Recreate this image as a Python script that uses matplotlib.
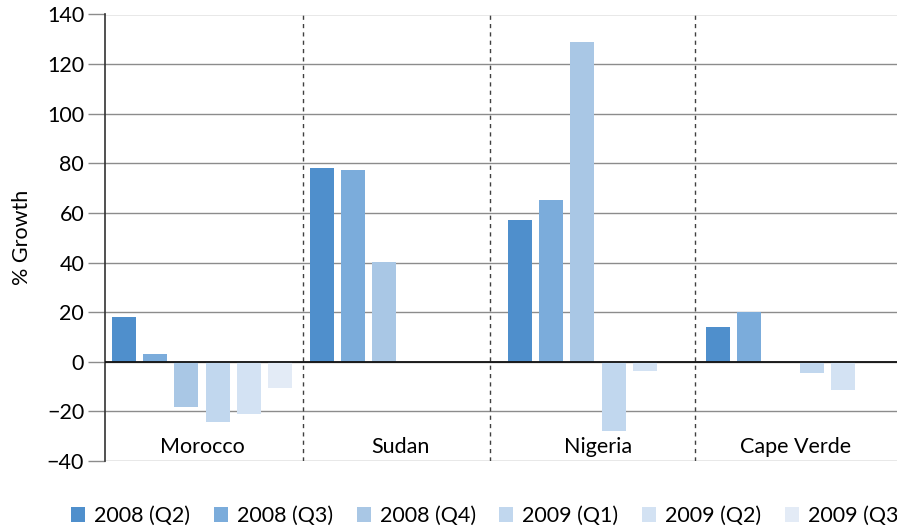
import numpy as np
import matplotlib
matplotlib.use("Agg")
import matplotlib.pyplot as plt
from matplotlib.patches import Patch

plt.rcParams['font.family'] = ['Lato', 'DejaVu Sans']

categories = ["Morocco", "Sudan", "Nigeria", "Cape Verde"]
series = ["2008 (Q2)", "2008 (Q3)", "2008 (Q4)", "2009 (Q1)", "2009 (Q2)", "2009 (Q3)"]
q2_2008 = [18.2, 78.0, 57.2, 14.2]
q3_2008 = [3.2, 77.4, 65.4, 20.0]
q4_2008 = [-18.4, 40.4, 128.8, np.nan]
q1_2009 = [-24.1, np.nan, -28.0, -4.7]
q2_2009 = [-20.9, np.nan, -3.9, -11.2]
q3_2009 = [-10.4, np.nan, np.nan, np.nan]
values = [q2_2008, q3_2008, q4_2008, q1_2009, q2_2009, q3_2009]
colors = ["#4F8FCC", "#7BACDB", "#A9C7E5", "#C1D7EE", "#D3E2F3", "#E3EBF6"]
yticks = [-40, -20, 0, 20, 40, 60, 80, 100, 120, 140]
separators = [0.512, 1.453, 2.491]

fig = plt.figure(figsize=(8.97, 5.31), dpi=100)
ax = fig.add_axes([105/897, 1-461/531, 1-105/897, (461-14.5)/531])

pitch = 0.157
width = 0.121
x = np.arange(len(categories))
for i, (vals, c) in enumerate(zip(values, colors)):
    v = np.array(vals, dtype=float)
    mask = ~np.isnan(v)
    ax.bar(x[mask] + (i - 2.5) * pitch, v[mask], width=width, color=c, zorder=3)

ax.set_xlim(-0.49, 3.51)
ax.set_ylim(-40, 140)
ax.set_yticks(yticks)
ax.yaxis.grid(True, color="#8C8C8C", linewidth=1.0, zorder=0)
ax.set_axisbelow(True)
ax.tick_params(axis='y', length=12, width=1.0, color="#8C8C8C", labelsize=15.5, pad=3,
               labelcolor="#000000")
ax.set_xticks([])
for s in ['top', 'right', 'bottom']:
    ax.spines[s].set_visible(False)
ax.spines['left'].set_color("#333333")
ax.spines['left'].set_linewidth(1.2)
ax.axhline(0, color="#111111", linewidth=1.3, zorder=4)

for sx in separators:
    ax.axvline(sx, color="#404040", linestyle=(0, (3, 3)), linewidth=1.0, zorder=2)

for xi, name in zip(x, categories):
    ax.text(xi, -34.5, name, ha='center', va='center', fontsize=15.5, color="#000000")

ax.set_ylabel("% Growth", fontsize=15.5, labelpad=11, color="#000000")

handles = [Patch(facecolor=c, edgecolor='none', label=s) for c, s in zip(colors, series)]
fig.legend(handles=handles, loc='center left', bbox_to_anchor=(71/897, 1-516/531),
           ncol=6, frameon=False, fontsize=15.5, handlelength=0.65, handleheight=0.65,
           handletextpad=0.42, columnspacing=1.1, borderpad=0, borderaxespad=0)

fig.savefig("out.png", dpi=100)
